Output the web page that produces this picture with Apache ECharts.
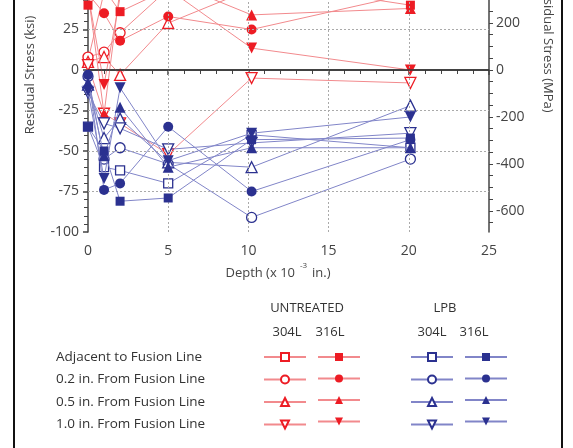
<!DOCTYPE html>
<html><head><meta charset="utf-8">
<script src="https://cdn.jsdelivr.net/npm/echarts@6/dist/echarts.min.js"></script>
<style>html,body{margin:0;padding:0;background:#fff}#c{width:573px;height:448px}</style>
</head><body><div id="c"></div>
<script>
// Depth (x 10^-3 in.)
const depths = [0, 1, 2, 5, 10.2, 20.1];
// Untreated 304L (open red)
const u304Adjacent = [6, 48, 55, 45, 50, 48];
const u304Point2 = [8, 11, 23, 50, 55, 50];
const u304Point5 = [5, 8, -3, 29, 50, 48];
const u304One = [3, -27, -33, -52, -5, -8];
// Untreated 316L (filled red)
const u316Adjacent = [40, 50, 36, 50, 55, 40];
const u316Point2 = [47, 35, 18, 33, 25, 47];
const u316Point5 = [48, -27, 50, 55, 34, 38];
const u316One = [47, -9, 45, 50, 13.5, 0];
// LPB 304L (open blue)
const l304Adjacent = [-35, -60, -62, -70, -40, -48];
const l304Point2 = [-4, -55, -48, -58, -91, -55];
const l304Point5 = [-9, -42, -30, -57, -60, -22];
const l304One = [-14, -33, -36, -49, -45, -39];
// LPB 316L (filled blue)
const l316Adjacent = [-35, -50, -81, -79, -43, -42];
const l316Point2 = [-3, -74, -70, -35, -75, -43];
const l316Point5 = [-8, -53, -23, -60, -48, -48];
const l316One = [-13, -67, -11, -56, -39, -29];

const xTicks = [0, 5, 10, 15, 20, 25];
const ksiTicks = [-100, -75, -50, -25, 0, 25];
const mpaTicks = [-600, -400, -200, 0, 200];
const rowLabels = ['Adjacent to Fusion Line', '0.2 in. From Fusion Line', '0.5 in. From Fusion Line', '1.0 in. From Fusion Line'];

const KSI_MIN = -100, KSI_MAX = 43.2, MPA_PER_KSI = 6.895;
const RED = '#ed1c24', RED_LINE = '#f28a8d', BLUE = '#2b3190', BLUE_LINE = '#8185c8';
const DOWN = 'path://M0,0 L10,0 L5,9 Z';
const symbols = ['rect', 'circle', 'triangle', DOWN];
const sizes = [9, 10, 11, 11];

function mk(name, vals, k, filled, color, lineColor) {
  return {
    type: 'line', name,
    data: depths.map((d, i) => [d, vals[i]]),
    symbol: symbols[k], symbolSize: sizes[k], showAllSymbol: true,
    itemStyle: { color: filled ? color : '#fff', borderColor: color, borderWidth: filled ? 0 : 1.3 },
    lineStyle: { color: lineColor, width: 1 },
    emphasis: { disabled: true }, clip: true, animation: false, z: filled ? 3 : 2
  };
}
const groups = [
  ['U304', [u304Adjacent, u304Point2, u304Point5, u304One], false, RED, RED_LINE],
  ['U316', [u316Adjacent, u316Point2, u316Point5, u316One], true, RED, RED_LINE],
  ['L304', [l304Adjacent, l304Point2, l304Point5, l304One], false, BLUE, BLUE_LINE],
  ['L316', [l316Adjacent, l316Point2, l316Point5, l316One], true, BLUE, BLUE_LINE]
];
const series = [];
const legends = [];
const legendLefts = [263, 317, 410, 464];
groups.forEach((g, gi) => {
  const names = [];
  g[1].forEach((vals, k) => {
    const nm = g[0] + ' ' + rowLabels[k];
    names.push(nm);
    const s = mk(nm, vals, k, g[2], g[3], g[4]);
    if (gi >= 2) s.z += 2;
    series.push(s);
  });
  legends.push({
    data: names, orient: 'vertical', left: legendLefts[gi], top: 352,
    itemWidth: 42, itemHeight: 10, itemGap: 12.5, padding: 0,
    formatter: () => '', selectedMode: false, textStyle: { fontSize: 1 }
  });
});
// grid lines (dotted) and zero line
series.push({
  type: 'line', data: [], z: 1, markLine: {
    silent: true, symbol: 'none', label: { show: false }, animation: false,
    lineStyle: { color: '#aaa', width: 1, type: [2, 2] },
    data: ksiTicks.filter(v => v !== 0 && v !== KSI_MIN).map(v => ({ yAxis: v }))
      .concat(xTicks.slice(1, -1).map(v => ({ xAxis: v })))
  }
});
series.push({
  type: 'line', data: [], z: 2, markLine: {
    silent: true, symbol: 'none', label: { show: false }, animation: false,
    lineStyle: { color: '#333', width: 1.5, type: 'solid' }, data: [{ yAxis: 0 }]
  }
});

const FONT = '"Open Sans", sans-serif';
const txt = (text, x, y, opts = {}) => ({
  type: 'text', x, y, rotation: opts.rot || 0, silent: true,
  style: { text, font: (opts.size || 13) + 'px ' + FONT, fill: opts.fill || '#333',
    align: opts.align || 'center', verticalAlign: 'middle' }
});
const graphic = [
  { type: 'line', shape: { x1: 14, y1: 0, x2: 14, y2: 448 }, style: { stroke: '#111', lineWidth: 2 } },
  { type: 'line', shape: { x1: 562, y1: 0, x2: 562, y2: 448 }, style: { stroke: '#111', lineWidth: 2 } },
  txt('Residual Stress (ksi)', 30, 75, { rot: Math.PI / 2, fill: '#444' }),
  txt('Residual Stress (MPa)', 548, 48, { rot: -Math.PI / 2, fill: '#444' }),
  txt('Depth (x 10', 295, 273, { align: 'right', fill: '#444' }),
  txt('-3', 300, 266, { align: 'left', size: 8, fill: '#444' }),
  txt('in.)', 312, 273, { align: 'left', fill: '#444' }),
  txt('UNTREATED', 307, 308), txt('304L', 287, 332), txt('316L', 330, 332),
  txt('LPB', 445, 308), txt('304L', 432, 332), txt('316L', 474, 332)
];
rowLabels.forEach((r, i) => graphic.push(txt(r, 56, 357 + i * 22.5, { align: 'left', size: 13.5 })));

const mpaMinor = [];
for (let v = -650; v <= 250; v += 50) mpaMinor.push(v);
const axisLineStyle = { color: '#444', width: 1.5 };
const labelStyle = { color: '#444', fontSize: 14, fontFamily: FONT };

const option = {
  animation: false,
  grid: { left: 88, right: 84, top: 0, bottom: 216 },
  xAxis: {
    type: 'value', min: 0, max: 25, interval: 5,
    axisLine: { lineStyle: axisLineStyle },
    axisTick: { length: 5, lineStyle: axisLineStyle },
    minorTick: { show: true, splitNumber: 5, length: 4, lineStyle: { color: '#444', width: 1 } },
    axisLabel: Object.assign({ margin: 12, customValues: xTicks }, labelStyle),
    splitLine: { show: false }
  },
  yAxis: [
    {
      type: 'value', min: KSI_MIN, max: KSI_MAX, interval: 25, position: 'left',
      axisLine: { show: true, lineStyle: axisLineStyle },
      axisTick: { show: true, length: 5, lineStyle: axisLineStyle },
      minorTick: { show: true, splitNumber: 5, length: 4, lineStyle: { color: '#444', width: 1 } },
      axisLabel: Object.assign({ margin: 9, customValues: ksiTicks }, labelStyle),
      splitLine: { show: false }
    },
    {
      type: 'value', min: KSI_MIN * MPA_PER_KSI, max: KSI_MAX * MPA_PER_KSI, position: 'right',
      axisLine: { show: true, lineStyle: axisLineStyle },
      axisTick: { show: true, length: 4, customValues: mpaMinor, lineStyle: { color: '#444', width: 1 } },
      axisLabel: Object.assign({ margin: 7, customValues: mpaTicks }, labelStyle),
      splitLine: { show: false }
    }
  ],
  legend: legends,
  graphic,
  series
};
const chart = echarts.init(document.getElementById('c'), null, { renderer: 'canvas' });
chart.setOption(option);
</script></body></html>
